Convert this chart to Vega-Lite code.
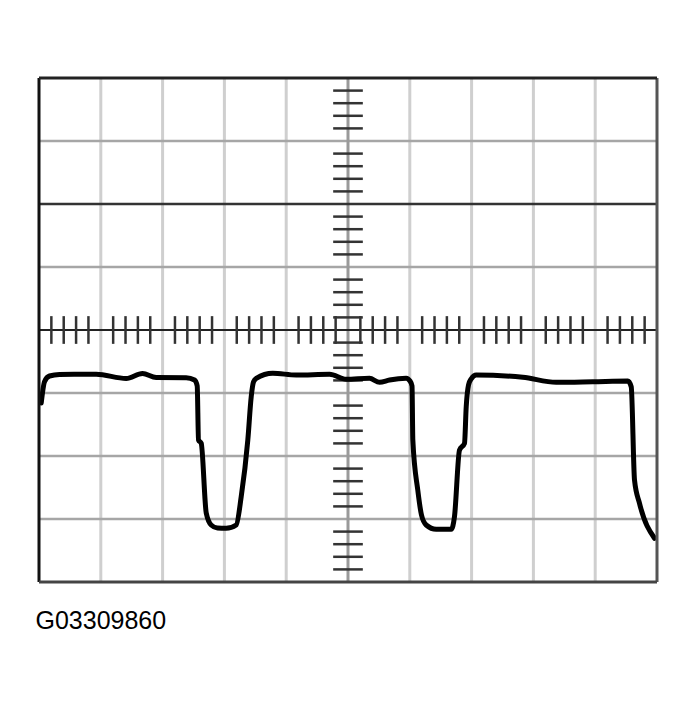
{
  "$schema": "https://vega.github.io/schema/vega-lite/v6.json",
  "width": 618,
  "height": 504,
  "autosize": {"type": "none"},
  "padding": {"left": 39, "top": 78, "right": 41, "bottom": 123},
  "background": "white",
  "config": {"view": {"stroke": null}},
  "title": {
    "text": "G03309860",
    "orient": "bottom",
    "anchor": "start",
    "offset": 25,
    "dx": -2,
    "font": "Liberation Sans",
    "fontSize": 25,
    "fontWeight": "normal",
    "color": "black"
  },
  "datasets": {
    "vlines": [
      {"x": 0}, {"x": 1}, {"x": 2}, {"x": 3}, {"x": 4}, {"x": 5},
      {"x": 6}, {"x": 7}, {"x": 8}, {"x": 9}, {"x": 10}
    ],
    "hlines": [
      {"y": -4}, {"y": -3}, {"y": -2}, {"y": -1}, {"y": 0},
      {"y": 1}, {"y": 2}, {"y": 3}, {"y": 4}
    ],
    "xticks": [
      {"x": 0.2}, {"x": 0.4}, {"x": 0.6}, {"x": 0.8},
      {"x": 1.2}, {"x": 1.4}, {"x": 1.6}, {"x": 1.8},
      {"x": 2.2}, {"x": 2.4}, {"x": 2.6}, {"x": 2.8},
      {"x": 3.2}, {"x": 3.4}, {"x": 3.6}, {"x": 3.8},
      {"x": 4.2}, {"x": 4.4}, {"x": 4.6}, {"x": 4.8},
      {"x": 5.2}, {"x": 5.4}, {"x": 5.6}, {"x": 5.8},
      {"x": 6.2}, {"x": 6.4}, {"x": 6.6}, {"x": 6.8},
      {"x": 7.2}, {"x": 7.4}, {"x": 7.6}, {"x": 7.8},
      {"x": 8.2}, {"x": 8.4}, {"x": 8.6}, {"x": 8.8},
      {"x": 9.2}, {"x": 9.4}, {"x": 9.6}, {"x": 9.8}
    ],
    "yticks": [
      {"y": -3.8}, {"y": -3.6}, {"y": -3.4}, {"y": -3.2},
      {"y": -2.8}, {"y": -2.6}, {"y": -2.4}, {"y": -2.2},
      {"y": -1.8}, {"y": -1.6}, {"y": -1.4}, {"y": -1.2},
      {"y": -0.8}, {"y": -0.6}, {"y": -0.4}, {"y": -0.2},
      {"y": 0.2}, {"y": 0.4}, {"y": 0.6}, {"y": 0.8},
      {"y": 1.2}, {"y": 1.4}, {"y": 1.6}, {"y": 1.8},
      {"y": 2.2}, {"y": 2.4}, {"y": 2.6}, {"y": 2.8},
      {"y": 3.2}, {"y": 3.4}, {"y": 3.6}, {"y": 3.8}
    ],
    "trace": [
      {"t": 0.036, "v": -1.16},
      {"t": 0.089, "v": -0.82},
      {"t": 0.17, "v": -0.73},
      {"t": 0.332, "v": -0.706},
      {"t": 0.926, "v": -0.703},
      {"t": 1.411, "v": -0.77},
      {"t": 1.675, "v": -0.69},
      {"t": 1.896, "v": -0.755},
      {"t": 2.382, "v": -0.757},
      {"t": 2.516, "v": -0.794},
      {"t": 2.56, "v": -0.889},
      {"t": 2.581, "v": -1.746},
      {"t": 2.625, "v": -1.798},
      {"t": 2.706, "v": -2.905},
      {"t": 2.786, "v": -3.095},
      {"t": 2.888, "v": -3.143},
      {"t": 3.029, "v": -3.148},
      {"t": 3.191, "v": -3.095},
      {"t": 3.272, "v": -2.646},
      {"t": 3.379, "v": -1.746},
      {"t": 3.434, "v": -1.059},
      {"t": 3.471, "v": -0.825},
      {"t": 3.515, "v": -0.767},
      {"t": 3.783, "v": -0.687},
      {"t": 4.162, "v": -0.714},
      {"t": 4.701, "v": -0.703},
      {"t": 4.971, "v": -0.783},
      {"t": 5.348, "v": -0.767},
      {"t": 5.51, "v": -0.83},
      {"t": 5.672, "v": -0.794},
      {"t": 5.942, "v": -0.767},
      {"t": 6.003, "v": -0.81},
      {"t": 6.036, "v": -0.889},
      {"t": 6.049, "v": -1.746},
      {"t": 6.129, "v": -2.54},
      {"t": 6.189, "v": -2.937},
      {"t": 6.265, "v": -3.095},
      {"t": 6.427, "v": -3.163},
      {"t": 6.67, "v": -3.163},
      {"t": 6.723, "v": -2.963},
      {"t": 6.804, "v": -1.905},
      {"t": 6.885, "v": -1.798},
      {"t": 6.913, "v": -1.217},
      {"t": 6.95, "v": -0.873},
      {"t": 6.994, "v": -0.775},
      {"t": 7.074, "v": -0.714},
      {"t": 7.828, "v": -0.751},
      {"t": 8.369, "v": -0.83},
      {"t": 8.961, "v": -0.821},
      {"t": 9.528, "v": -0.81},
      {"t": 9.583, "v": -0.9},
      {"t": 9.636, "v": -2.381},
      {"t": 9.717, "v": -2.751},
      {"t": 9.96, "v": -3.306}
    ]
  },
  "resolve": {"scale": {"x": "shared", "y": "shared"}},
  "layer": [
    {
      "data": {"name": "vlines"},
      "transform": [{"filter": "datum.x > 0 && datum.x < 10 && datum.x != 5"}],
      "mark": {"type": "rule", "color": "#cfcfcf", "strokeWidth": 3},
      "encoding": {
        "x": {"field": "x", "type": "quantitative", "scale": {"domain": [0, 10], "nice": false, "zero": false}, "axis": null}
      }
    },
    {
      "data": {"name": "hlines"},
      "transform": [{"filter": "datum.y > -4 && datum.y < 4 && datum.y != 0 && datum.y != 2"}],
      "mark": {"type": "rule", "color": "#a6a6a6", "strokeWidth": 2.5},
      "encoding": {
        "y": {"field": "y", "type": "quantitative", "scale": {"domain": [-4, 4], "nice": false, "zero": false}, "axis": null}
      }
    },
    {
      "data": {"name": "vlines"},
      "transform": [{"filter": "datum.x == 5"}],
      "mark": {"type": "rule", "color": "#9a9a9a", "strokeWidth": 3},
      "encoding": {
        "x": {"field": "x", "type": "quantitative"}
      }
    },
    {
      "data": {"name": "hlines"},
      "transform": [{"filter": "datum.y == 2"}],
      "mark": {"type": "rule", "color": "#333333", "strokeWidth": 2.5},
      "encoding": {
        "y": {"field": "y", "type": "quantitative"}
      }
    },
    {
      "data": {"name": "hlines"},
      "transform": [{"filter": "datum.y == 0"}],
      "mark": {"type": "rule", "color": "#222222", "strokeWidth": 2},
      "encoding": {
        "y": {"field": "y", "type": "quantitative"}
      }
    },
    {
      "data": {"name": "xticks"},
      "mark": {"type": "rule", "color": "#333333", "strokeWidth": 2.5},
      "encoding": {
        "x": {"field": "x", "type": "quantitative"},
        "y": {"datum": -0.22},
        "y2": {"datum": 0.22}
      }
    },
    {
      "data": {"name": "yticks"},
      "mark": {"type": "rule", "color": "#333333", "strokeWidth": 2.5},
      "encoding": {
        "y": {"field": "y", "type": "quantitative"},
        "x": {"datum": 4.76},
        "x2": {"datum": 5.24}
      }
    },
    {
      "data": {"name": "trace"},
      "mark": {"type": "line", "color": "black", "strokeWidth": 5, "strokeJoin": "round", "strokeCap": "round", "interpolate": "monotone"},
      "encoding": {
        "x": {"field": "t", "type": "quantitative"},
        "y": {"field": "v", "type": "quantitative"}
      }
    },
    {
      "data": {"name": "vlines"},
      "transform": [{"filter": "datum.x == 0"}],
      "mark": {"type": "rule", "color": "#111111", "strokeWidth": 3},
      "encoding": {"x": {"field": "x", "type": "quantitative"}}
    },
    {
      "data": {"name": "vlines"},
      "transform": [{"filter": "datum.x == 10"}],
      "mark": {"type": "rule", "color": "#555555", "strokeWidth": 3},
      "encoding": {"x": {"field": "x", "type": "quantitative"}}
    },
    {
      "data": {"name": "hlines"},
      "transform": [{"filter": "datum.y == 4"}],
      "mark": {"type": "rule", "color": "#222222", "strokeWidth": 3},
      "encoding": {"y": {"field": "y", "type": "quantitative"}}
    },
    {
      "data": {"name": "hlines"},
      "transform": [{"filter": "datum.y == -4"}],
      "mark": {"type": "rule", "color": "#444444", "strokeWidth": 3},
      "encoding": {"y": {"field": "y", "type": "quantitative"}}
    }
  ]
}
